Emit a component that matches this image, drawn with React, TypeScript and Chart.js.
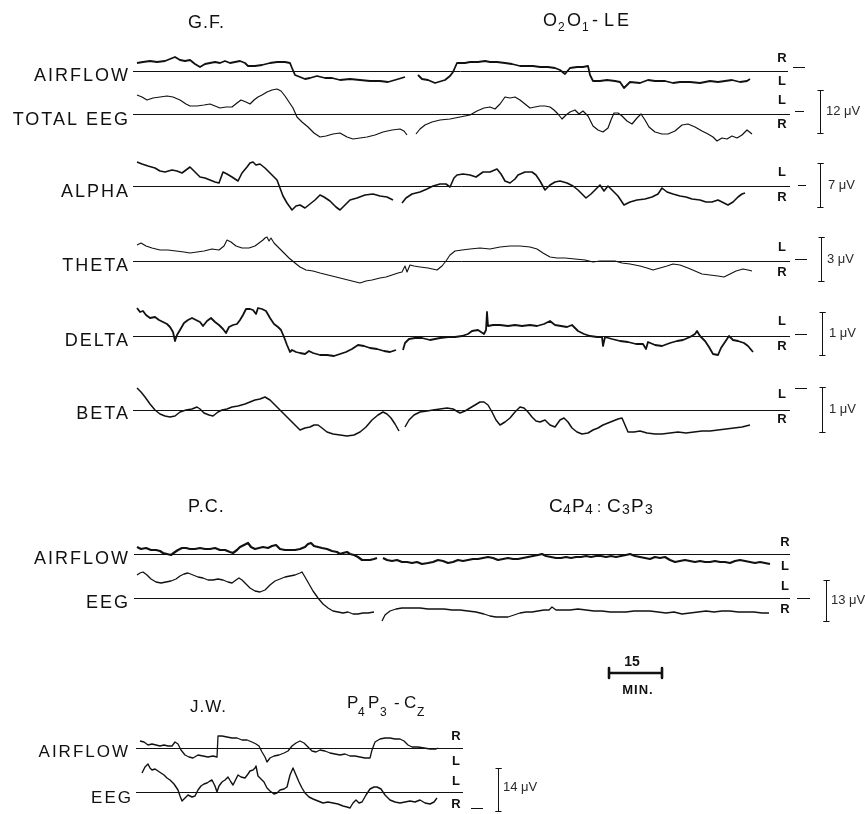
import { useEffect, useRef } from "react";
import { Chart, registerables } from "chart.js";

Chart.register(...registerables);

const W = 865;
const H = 814;
const FONT = '"Liberation Sans", Arial, Helvetica, sans-serif';
const INK = "#111111";

// ---- traces: chart-paper position (T) and deflection from the row's zero line (V, + = up) ----
// G.F.  O2O1-LE
const gfAirflowT1 = [137,143,150,157,165,170,175,180,185,190,195,200,205,210,215,220,225,230,235,240,245,248,255,262,270,277,285,290,292,295,300,305,310,317,325,332,340,350,360,370,380,388,395,405];
const gfAirflowV1 = [8,9,10,9,10,12,14,11,10,11,7,4,7,8,9,8,10,8,9,10,8,5,5,6,8,9,9,8,3,-4,-6,-8,-7,-5,-7,-7,-9,-8,-9,-10,-10,-11,-9,-6];
const gfAirflowT2 = [418,422,428,435,445,450,453,457,465,470,478,485,490,497,505,512,520,527,533,540,548,555,560,565,570,577,583,588,590,593,600,607,615,620,624,630,640,648,655,665,673,680,690,700,710,718,725,732,740,747,750];
const gfAirflowV2 = [-4,-8,-9,-12,-9,-5,-1,8,8,9,9,10,9,9,8,7,5,5,5,4,4,3,1,-3,3,4,4,5,-4,-10,-10,-9,-10,-11,-17,-11,-12,-9,-10,-10,-12,-11,-11,-12,-10,-11,-10,-9,-11,-10,-8];

const gfTotalT1 = [137,142,147,153,160,167,173,180,186,190,197,204,210,215,220,226,232,237,241,246,250,254,258,262,267,272,277,281,285,289,293,297,302,308,314,320,326,333,340,347,353,360,367,375,383,392,400,404,407];
const gfTotalV1 = [19,17,14,16,17,18,17,14,10,8,8,9,10,8,6,7,7,11,14,12,10,14,17,19,22,24,25,23,18,12,6,-3,-8,-13,-19,-23,-22,-20,-19,-23,-25,-24,-23,-21,-18,-16,-15,-17,-21];
const gfTotalT2 = [416,420,425,432,440,450,460,470,477,484,490,495,500,505,510,515,520,525,530,535,540,545,550,554,558,562,566,570,575,579,583,588,593,598,603,608,611,614,618,622,627,632,637,641,645,649,655,662,668,675,682,688,695,702,708,713,717,722,727,732,737,742,747,752];
const gfTotalV2 = [-20,-15,-11,-8,-6,-5,-3,-1,3,6,7,5,10,17,16,17,14,10,6,7,8,8,7,4,0,-5,-1,2,4,0,3,-2,-12,-16,-18,-14,-6,1,1,-2,-7,-10,-4,0,-6,-13,-18,-20,-20,-17,-11,-10,-13,-17,-20,-23,-27,-24,-25,-22,-24,-21,-16,-20];

const gfAlphaT1 = [137,142,148,155,160,165,172,177,182,186,190,195,200,205,210,215,219,223,227,232,238,242,247,250,253,256,260,265,269,273,277,280,283,287,292,296,300,305,310,315,320,324,330,336,340,345,350,357,365,373,380,387,393];
const gfAlphaV1 = [24,22,20,18,15,14,16,15,13,16,19,14,9,8,6,4,3,14,12,9,5,13,19,23,24,21,22,18,14,10,6,-2,-10,-17,-24,-20,-19,-22,-18,-14,-9,-11,-15,-21,-24,-19,-14,-12,-9,-8,-10,-11,-14];
const gfAlphaT2 = [402,406,412,420,427,433,440,446,450,454,457,463,470,476,483,490,497,501,505,510,515,518,525,532,536,540,545,550,555,560,567,573,578,582,586,591,596,600,604,608,612,618,624,630,637,645,652,658,662,667,673,680,686,692,700,706,712,718,724,728,733,738,742,745];
const gfAlphaV2 = [-17,-12,-8,-6,-3,0,2,2,-1,8,11,12,11,9,14,14,17,12,5,3,7,11,14,14,11,5,-4,1,4,5,3,0,-4,-8,-12,-8,-3,1,-5,0,-4,-10,-19,-16,-14,-13,-11,-8,-2,-6,-8,-10,-11,-13,-14,-16,-16,-14,-17,-19,-16,-11,-8,-7];

const gfThetaT1 = [137,141,146,152,160,168,176,184,190,197,204,212,219,224,227,231,236,242,249,255,259,263,265,267,269,271,274,279,284,289,295,300,306,313,320,328,336,344,352,360,366,372,380,386,392,398,402,405,407,410,414,420];
const gfThetaV1 = [16,18,15,13,11,11,10,9,8,9,10,12,11,15,21,19,15,13,13,15,18,21,23,24,20,23,18,13,8,3,-2,-6,-9,-10,-12,-14,-16,-18,-20,-22,-20,-19,-17,-16,-14,-12,-11,-5,-11,-4,-5,-6];
const gfThetaT2 = [420,428,437,442,446,450,455,462,470,480,490,500,510,520,530,537,543,550,557,565,575,585,593,600,608,615,622,630,640,647,653,660,667,673,680,688,695,702,710,718,724,730,736,743,748,752];
const gfThetaV2 = [-6,-7,-9,-5,0,6,10,11,12,13,12,14,15,15,14,12,8,4,3,3,2,1,-1,0,0,0,-2,-3,-5,-7,-9,-7,-5,-3,-4,-7,-10,-13,-14,-15,-16,-13,-10,-8,-9,-10];

const gfDeltaT1 = [137,140,143,146,150,155,159,163,167,170,173,175,177,180,184,188,192,196,200,203,207,211,215,219,223,226,229,233,237,240,243,246,250,253,256,258,262,266,270,274,278,281,284,287,290,292,296,300,305,309,313,320,327,334,340,346,352,358,364,370,377,384,390,396];
const gfDeltaV1 = [28,24,25,21,18,19,16,14,12,9,4,-5,1,6,13,16,18,16,14,10,15,18,14,11,7,3,9,11,12,16,21,27,27,26,22,28,27,25,18,12,9,6,-1,-9,-16,-14,-16,-17,-18,-15,-17,-19,-19,-20,-18,-16,-13,-9,-10,-12,-13,-15,-16,-14];
const gfDeltaT2 = [403,405,409,415,422,430,440,448,455,462,468,472,478,484,486,487,488,493,500,508,515,522,530,537,544,550,555,561,567,572,578,584,590,597,602,603,605,612,620,628,636,643,646,648,655,662,670,677,683,690,695,697,700,705,709,713,718,721,725,729,733,738,744,748,753];
const gfDeltaV2 = [-14,-7,-3,-2,-2,-4,-2,-1,-1,0,2,5,6,2,6,24,10,11,11,10,11,10,11,10,12,15,11,10,9,11,5,2,0,-1,-1,-10,-1,-3,-5,-6,-8,-8,-13,-6,-9,-10,-7,-5,-4,-1,2,5,0,-5,-11,-18,-19,-12,-6,0,-4,-5,-7,-10,-16];

const gfBetaT1 = [137,141,145,150,155,160,165,170,175,180,186,192,197,200,204,209,213,218,222,227,232,238,245,250,255,260,265,270,275,280,285,290,295,300,305,310,314,318,322,327,333,340,347,354,360,366,372,378,383,387,391,395,399];
const gfBetaV1 = [22,18,13,6,0,-4,-6,-7,-6,-2,0,1,3,1,-3,-5,-6,-2,0,1,3,4,6,8,10,11,13,10,5,0,-5,-10,-15,-20,-18,-17,-15,-15,-18,-22,-24,-25,-26,-25,-22,-17,-10,-5,-2,-4,-8,-14,-21];
const gfBetaT2 = [405,409,414,420,427,433,440,447,453,460,465,470,475,480,484,488,492,496,500,505,510,515,520,524,528,532,536,540,545,550,555,560,564,568,572,577,582,588,593,598,603,608,613,618,622,625,628,634,640,647,655,662,670,678,686,694,702,710,718,726,734,742,750];
const gfBetaV2 = [-17,-10,-5,-2,-1,0,1,2,1,-3,-1,2,5,8,8,5,-2,-10,-15,-12,-8,-2,3,2,-2,-7,-11,-12,-10,-15,-17,-10,-8,-12,-18,-22,-24,-23,-20,-18,-15,-13,-11,-9,-8,-15,-22,-22,-21,-23,-24,-24,-23,-22,-23,-22,-21,-21,-20,-19,-18,-17,-15];

// P.C.  C4P4 : C3P3
const pcAirflowT1 = [137,141,146,151,156,160,163,167,171,175,178,182,186,190,195,200,205,210,215,220,225,230,233,237,240,244,248,251,255,259,263,268,272,276,280,285,290,295,300,305,308,311,314,318,322,327,332,337,340,343,347,350,354,358,362,366,370,374,377];
const pcAirflowV1 = [7,5,6,4,4,3,1,0,-1,2,4,6,6,5,5,6,5,5,6,4,4,2,1,4,7,9,11,7,5,6,7,6,8,9,5,4,4,4,5,7,10,11,8,7,6,5,3,2,0,1,2,0,-1,-3,-6,-6,-6,-5,-4];
const pcAirflowT2 = [383,387,392,397,402,407,412,417,422,428,433,438,443,448,453,458,463,468,473,478,483,488,493,498,503,508,513,518,523,528,533,538,542,546,551,556,561,566,571,576,581,586,591,596,601,606,611,616,621,626,630,635,640,645,650,655,660,665,670,675,680,685,690,695,700,705,710,715,720,725,730,735,740,745,750,755,760,765,770];
const pcAirflowV2 = [-4,-6,-7,-6,-8,-8,-9,-8,-10,-9,-8,-6,-7,-9,-8,-6,-7,-6,-5,-5,-4,-3,-4,-6,-5,-4,-5,-5,-4,-3,-2,-1,0,-2,-3,-4,-4,-3,-4,-3,-3,-2,-3,-2,-2,-3,-2,-3,-2,-1,0,-2,-3,-4,-5,-3,-4,-3,-6,-8,-7,-6,-7,-8,-7,-8,-8,-7,-8,-8,-9,-7,-6,-7,-8,-9,-8,-9,-10];

const pcEegT1 = [137,140,143,147,151,156,161,166,171,176,180,184,188,193,198,203,208,213,218,223,228,232,236,239,242,246,250,255,260,265,270,275,280,285,290,295,300,302,305,309,313,318,323,328,333,338,343,348,353,358,363,368,374];
const pcEegV1 = [23,25,26,23,19,16,15,16,17,19,22,24,25,23,21,20,18,18,19,18,16,15,18,20,18,14,10,7,6,8,13,17,19,21,22,23,25,26,21,14,7,0,-6,-10,-13,-14,-15,-14,-16,-16,-15,-15,-14];
const pcEegT2 = [382,385,390,396,402,408,414,420,428,436,444,452,460,468,476,484,490,496,502,508,514,520,526,532,538,544,549,552,556,562,570,578,586,594,602,610,618,626,634,642,650,658,666,674,682,690,698,706,714,722,730,738,746,754,762,769];
const pcEegV2 = [-23,-17,-13,-11,-10,-10,-10,-10,-11,-11,-11,-12,-12,-13,-14,-16,-18,-19,-19,-19,-17,-15,-14,-14,-13,-12,-12,-9,-12,-12,-12,-11,-12,-13,-13,-14,-14,-14,-13,-13,-13,-14,-15,-14,-16,-15,-14,-13,-14,-13,-13,-14,-14,-14,-15,-15];

// J.W.  P4P3-Cz
const jwAirflowT = [140,144,148,152,156,160,164,168,172,175,178,181,185,189,193,198,203,208,213,217,218,222,227,232,237,242,247,252,256,259,262,265,267,270,274,279,284,288,292,296,300,304,308,312,316,320,325,330,335,340,345,350,355,360,365,370,372,375,380,385,390,395,400,404,408,412,418,424,430,436,438];
const jwAirflowV = [7,6,3,4,3,2,3,2,2,6,4,-2,-7,-9,-10,-7,-8,-9,-8,-9,12,12,11,10,10,8,8,6,4,2,-4,-9,-14,-10,-8,-7,-5,-3,2,5,7,5,1,-3,-4,-2,-3,-5,-6,-7,-6,-8,-8,-9,-10,-10,-2,6,9,10,10,9,9,7,3,1,1,0,-1,-1,0];

const jwEegT = [142,145,148,150,152,155,158,161,164,167,170,174,178,180,182,185,188,192,195,198,201,204,207,210,212,215,217,219,222,225,228,231,233,236,238,241,245,248,250,253,255,256,258,261,264,267,270,274,277,280,284,287,290,293,296,299,302,305,309,313,318,323,328,333,338,343,347,350,353,356,359,362,366,370,374,377,381,385,390,395,400,405,410,415,420,425,430,434,437];
const jwEegV = [19,25,28,24,22,23,21,19,17,14,12,8,2,-4,-9,-6,-3,-5,-4,2,6,8,9,11,12,6,0,6,10,12,15,10,7,13,17,15,14,18,21,22,24,26,16,13,10,4,1,-2,-1,2,3,5,17,24,17,10,4,-1,-5,-7,-9,-11,-10,-11,-12,-14,-15,-16,-11,-8,-11,-10,-3,3,5,5,3,-3,-8,-10,-11,-10,-9,-10,-8,-11,-12,-10,-6];

// calibration labels
const calLabels = ["12 μV", "7 μV", "3 μV", "1 μV", "1 μV", "13 μV", "14 μV"];
const timeBarLabel = ["15", "MIN."];

// ---- layout (positions on the paper) ----
type Row = {
  base: number;
  width: number;
  segs: [number[], number[]][];
  from: number;
  to: number;
};

const ROWS: Row[] = [
  { base: 71, width: 1.8, segs: [[gfAirflowT1, gfAirflowV1], [gfAirflowT2, gfAirflowV2]], from: 133, to: 788 },
  { base: 114, width: 1.2, segs: [[gfTotalT1, gfTotalV1], [gfTotalT2, gfTotalV2]], from: 133, to: 790 },
  { base: 186, width: 1.6, segs: [[gfAlphaT1, gfAlphaV1], [gfAlphaT2, gfAlphaV2]], from: 133, to: 790 },
  { base: 261, width: 1.1, segs: [[gfThetaT1, gfThetaV1], [gfThetaT2, gfThetaV2]], from: 133, to: 790 },
  { base: 336, width: 1.8, segs: [[gfDeltaT1, gfDeltaV1], [gfDeltaT2, gfDeltaV2]], from: 133, to: 790 },
  { base: 410, width: 1.5, segs: [[gfBetaT1, gfBetaV1], [gfBetaT2, gfBetaV2]], from: 133, to: 790 },
  { base: 554, width: 2.2, segs: [[pcAirflowT1, pcAirflowV1], [pcAirflowT2, pcAirflowV2]], from: 134, to: 790 },
  { base: 598, width: 1.3, segs: [[pcEegT1, pcEegV1], [pcEegT2, pcEegV2]], from: 134, to: 790 },
  { base: 748, width: 1.3, segs: [[jwAirflowT, jwAirflowV]], from: 136, to: 463 },
  { base: 792, width: 1.4, segs: [[jwEegT, jwEegV]], from: 136, to: 463 },
];

const DASHES: [number, number, number][] = [
  [793, 805, 67], [795, 804, 111], [798, 806, 185], [795, 807, 259], [795, 807, 334], [795, 807, 388],
  [797, 810, 598], [471, 483, 808],
];

// [x, top, bottom, labelX, labelY]
const CAL_BARS: [number, number, number, number, number][] = [
  [820, 90, 133, 826, 111],
  [820, 163, 207, 828, 185],
  [821, 237, 281, 827, 259],
  [822, 312, 355, 829, 333],
  [822, 387, 432, 829, 409],
  [826, 580, 621, 831, 600],
  [498, 768, 811, 503, 787],
];

const LEFT_LABELS: [string, number, number, number][] = [
  ["AIRFLOW", 130, 81, 18], ["TOTAL EEG", 130, 125, 18], ["ALPHA", 130, 197, 18], ["THETA", 130, 271, 18],
  ["DELTA", 130, 346, 18], ["BETA", 130, 419, 18],
  ["AIRFLOW", 130, 564, 18], ["EEG", 130, 608, 18],
  ["AIRFLOW", 130, 757, 17], ["EEG", 133, 803, 17],
];

const SIDE_LETTERS: [string, number, number][] = [
  ["R", 782, 58], ["L", 782, 81], ["L", 782, 100], ["R", 782, 124], ["L", 782, 172], ["R", 782, 197],
  ["L", 782, 247], ["R", 782, 272], ["L", 782, 321], ["R", 782, 346], ["L", 782, 394], ["R", 782, 419],
  ["R", 785, 542], ["L", 785, 566], ["L", 785, 586], ["R", 785, 609],
  ["R", 456, 736], ["L", 456, 761], ["L", 456, 781], ["R", 456, 804],
];

// title runs: [text, x, y, size]
const TITLE_RUNS: [string, number, number, number][] = [
  ["G.F.", 188, 28, 18],
  ["O", 543, 26, 18], ["2", 558, 31, 12], ["O", 567, 26, 18], ["1", 582, 31, 12], ["-", 592, 26, 18], ["L", 604, 26, 18], ["E", 617, 26, 18],
  ["P.C.", 188, 512, 18],
  ["C", 549, 512, 19], ["4", 563, 514, 14], ["P", 572, 512, 19], ["4", 585, 514, 14], [":", 597, 512, 15],
  ["C", 607, 512, 19], ["3", 622, 514, 14], ["P", 631, 512, 19], ["3", 645, 514, 14],
  ["J.W.", 190, 712, 17],
  ["P", 347, 708, 17], ["4", 358, 716, 12], ["P", 368, 708, 17], ["3", 380, 716, 12], ["-", 394, 708, 17],
  ["C", 404, 708, 17], ["Z", 417, 716, 12],
];

// half-pixel shift so 1px rules render crisp
const CRISP = 0.5;

function buildDatasets() {
  const ds: any[] = [];
  const push = (pts: { x: number; y: number }[], width: number, color = INK) =>
    ds.push({
      data: pts,
      borderColor: color,
      borderWidth: width,
      pointRadius: 0,
      pointHoverRadius: 0,
      fill: false,
      tension: 0,
      borderJoinStyle: "round",
      borderCapStyle: "butt",
    });
  ROWS.forEach((r) => {
    push([{ x: r.from, y: r.base + CRISP }, { x: r.to, y: r.base + CRISP }], 1);
    r.segs.forEach(([t, v]) => {
      const n = Math.min(t.length, v.length);
      const pts = [];
      for (let i = 0; i < n; i++) pts.push({ x: t[i], y: r.base - v[i] });
      push(pts, r.width);
    });
  });
  DASHES.forEach(([a, b, y]) => push([{ x: a, y: y + CRISP }, { x: b, y: y + CRISP }], 1));
  CAL_BARS.forEach(([x0, t0, b0]) => {
    const x = x0 + CRISP;
    const t = t0 + CRISP;
    const b = b0 + CRISP;
    push(
      [
        { x: x - 3, y: t }, { x: x + 3, y: t }, { x, y: t },
        { x, y: b }, { x: x - 3, y: b }, { x: x + 3, y: b },
      ],
      1
    );
  });
  push(
    [
      { x: 609, y: 668 }, { x: 609, y: 678 }, { x: 609, y: 673 },
      { x: 662, y: 673 }, { x: 662, y: 668 }, { x: 662, y: 678 },
    ],
    2.6
  );
  return ds;
}

const textPlugin = {
  id: "paperText",
  beforeDraw(chart: any) {
    const { ctx } = chart;
    ctx.save();
    ctx.fillStyle = "#ffffff";
    ctx.fillRect(0, 0, chart.width, chart.height);
    ctx.restore();
  },
  afterDraw(chart: any) {
    const { ctx } = chart;
    const sx = chart.scales.x;
    const sy = chart.scales.y;
    const X = (v: number) => sx.getPixelForValue(v);
    const Y = (v: number) => sy.getPixelForValue(v);
    ctx.save();
    ctx.fillStyle = INK;
    ctx.textBaseline = "alphabetic";

    // titles
    ctx.textAlign = "left";
    TITLE_RUNS.forEach(([t, x, y, s]) => {
      ctx.font = `${s}px ${FONT}`;
      (ctx as any).letterSpacing = t.length > 1 ? "1px" : "0px";
      ctx.fillText(t, X(x), Y(y));
    });

    // left labels
    ctx.textAlign = "right";
    LEFT_LABELS.forEach(([t, x, y, s]) => {
      ctx.font = `${s}px ${FONT}`;
      (ctx as any).letterSpacing = "2px";
      ctx.fillText(t, X(x), Y(y));
    });
    (ctx as any).letterSpacing = "0px";

    // R / L
    ctx.textAlign = "center";
    ctx.textBaseline = "middle";
    ctx.font = `bold 13px ${FONT}`;
    SIDE_LETTERS.forEach(([t, x, y]) => ctx.fillText(t, X(x), Y(y)));

    // calibration labels
    ctx.textAlign = "left";
    ctx.font = `13px ${FONT}`;
    ctx.fillStyle = "#2a2a2a";
    CAL_BARS.forEach(([, , , lx, ly], i) => ctx.fillText(calLabels[i], X(lx), Y(ly)));

    // time bar
    ctx.fillStyle = INK;
    ctx.textAlign = "center";
    ctx.font = `bold 14px ${FONT}`;
    ctx.fillText(timeBarLabel[0], X(632), Y(662));
    ctx.font = `bold 13px ${FONT}`;
    (ctx as any).letterSpacing = "1px";
    ctx.fillText(timeBarLabel[1], X(638), Y(690));
    ctx.restore();
  },
};

export default function App() {
  const ref = useRef<HTMLCanvasElement>(null);
  useEffect(() => {
    document.body.style.margin = "0";
    const canvas = ref.current;
    if (!canvas) return;
    const chart = new Chart(canvas, {
      type: "line",
      data: { datasets: buildDatasets() },
      options: {
        animation: false,
        responsive: false,
        maintainAspectRatio: false,
        devicePixelRatio: 1,
        events: [],
        layout: { padding: 0 },
        scales: {
          x: { type: "linear", min: 0, max: W, display: false },
          y: { type: "linear", min: 0, max: H, reverse: true, display: false },
        },
        plugins: { legend: { display: false }, tooltip: { enabled: false } },
      },
      plugins: [textPlugin],
    } as any);
    return () => chart.destroy();
  }, []);
  return (
    <div style={{ position: "relative", width: W, height: H, background: "#fff" }}>
      <canvas ref={ref} width={W} height={H} style={{ display: "block", width: W, height: H }} />
    </div>
  );
}
